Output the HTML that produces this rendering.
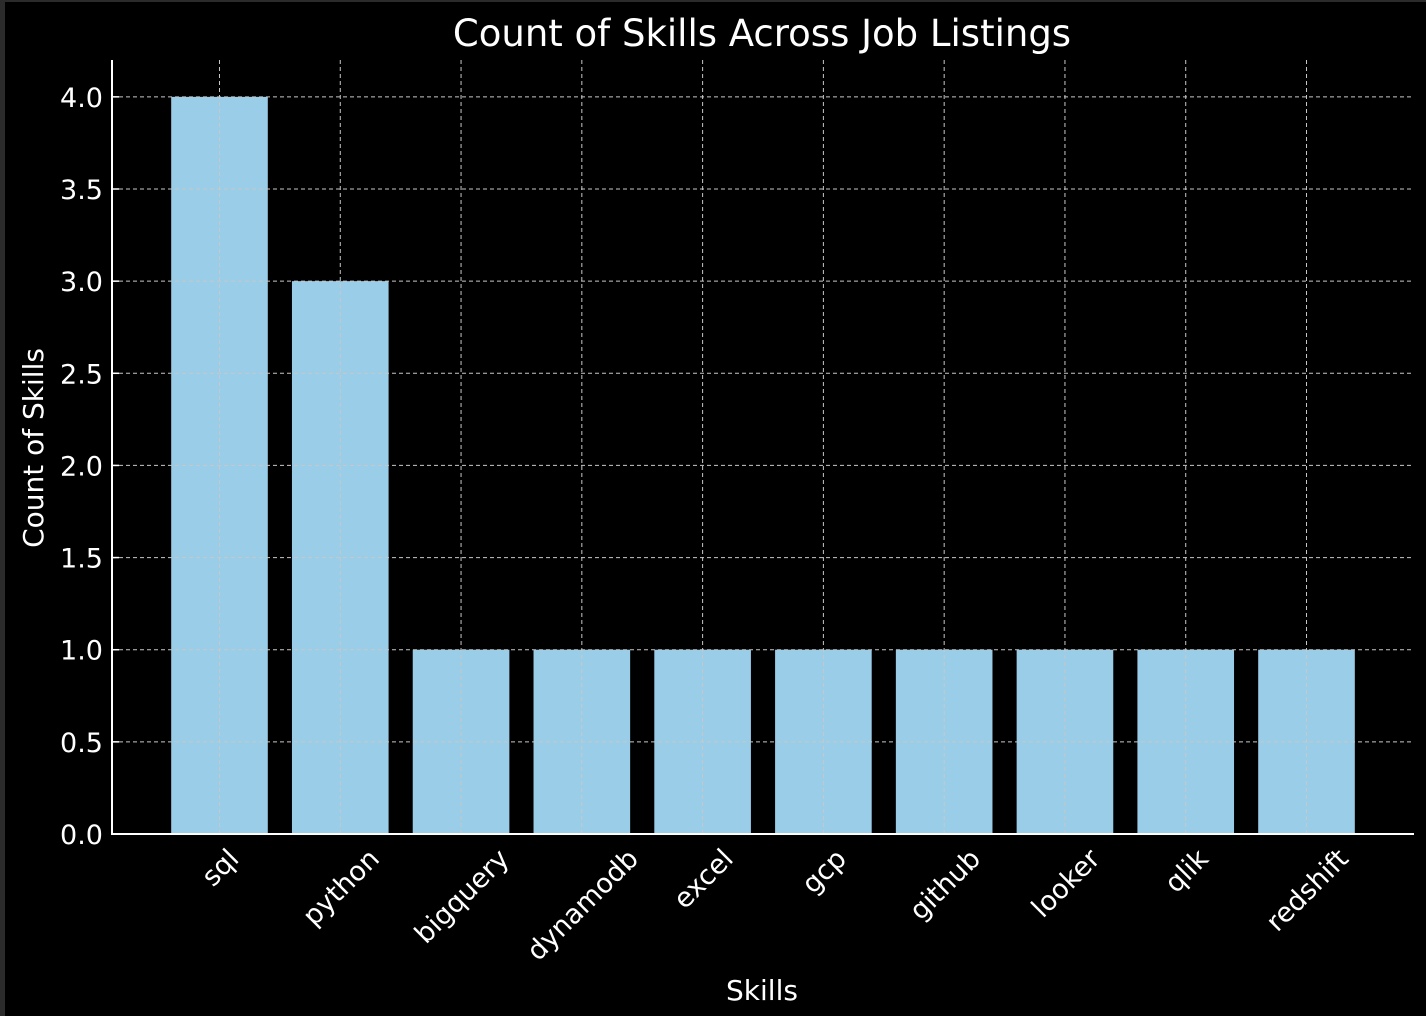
<!DOCTYPE html>
<html><head><meta charset="utf-8">
<style>
html,body{margin:0;padding:0;background:#000;}
body{width:1426px;height:1016px;overflow:hidden;position:relative;}
#frame-top{position:absolute;left:0;top:0;width:1426px;height:2px;background:#2b2b2b;}
#frame-left{position:absolute;left:0;top:0;width:5px;height:1016px;background:#2b2b2b;}
svg{position:absolute;left:0;top:0;}
text{font-family:"DejaVu Sans","Liberation Sans",sans-serif;fill:#fff;}
</style></head>
<body>
<div id="frame-top"></div>
<div id="frame-left"></div>
<svg id="chart" width="1426" height="1016"></svg>
<script>
const categories = ["sql","python","bigquery","dynamodb","excel","gcp","github","looker","qlik","redshift"];
const counts = [4,3,1,1,1,1,1,1,1,1];
const yTicks = [0,0.5,1,1.5,2,2.5,3,3.5,4];
const yTickLabels = ["0.0","0.5","1.0","1.5","2.0","2.5","3.0","3.5","4.0"];

const NS="http://www.w3.org/2000/svg";
const svg=document.getElementById('chart');
const L=112,R=1414,T=60,B=834;
const yMin=0,yMax=4.2;
const xMin=-0.89,xMax=categories.length-1+0.89;
function xs(v){return L+(v-xMin)/(xMax-xMin)*(R-L);}
function ys(v){return B-(v-yMin)/(yMax-yMin)*(B-T);}
function mk(tag,attrs){const e=document.createElementNS(NS,tag);for(const k in attrs)e.setAttribute(k,attrs[k]);svg.appendChild(e);return e;}

const bw=(xs(0.8)-xs(0));
counts.forEach((c,i)=>{
  const b=mk('rect',{x:xs(i)-bw/2,y:ys(c),width:bw,height:ys(0)-ys(c),fill:'#99cde8'});
  
  
});
yTicks.forEach((t,i)=>{
  const g=mk('line',{x1:L,x2:R,y1:ys(t),y2:ys(t),stroke:'#c8c8c8','stroke-width':1,'stroke-dasharray':'4,3'});
  
  
  const tk=mk('line',{x1:L,x2:L+7,y1:ys(t),y2:ys(t),stroke:'#fff','stroke-width':1.5});
  
  
  const lb=mk('text',{x:L-9,y:ys(t)+10,'text-anchor':'end','font-size':'27'});
  lb.textContent=yTickLabels[i];
  
  
});
categories.forEach((c,i)=>{
  const g=mk('line',{x1:xs(i),x2:xs(i),y1:T,y2:B,stroke:'#c8c8c8','stroke-width':1,'stroke-dasharray':'4,3'});
  
  
  const lb=mk('text',{x:0,y:0,'text-anchor':'middle','font-size':'27'});
  lb.textContent=c;
  
  
  const w=lb.getComputedTextLength();
  const h=27*0.75;
  const half=(w+h)*Math.SQRT1_2/2;
  const cy=B+12+half;
  lb.setAttribute('transform','translate('+xs(i)+','+cy+') rotate(-45) translate(0,'+(h/2)+')');
});
const sl=mk('line',{x1:L,x2:L,y1:T,y2:B+1,stroke:'#fff','stroke-width':2});


const sb=mk('line',{x1:L-1,x2:R,y1:B,y2:B,stroke:'#fff','stroke-width':2});


const tt=mk('text',{x:762,y:46,'text-anchor':'middle','font-size':'37'});
tt.textContent='Count of Skills Across Job Listings';


const xt=mk('text',{x:762,y:1000,'text-anchor':'middle','font-size':'28'});
xt.textContent='Skills';


const yt=mk('text',{x:0,y:0,'text-anchor':'middle','font-size':'28','transform':'translate(43,448) rotate(-90)'});
yt.textContent='Count of Skills';


</script>
</body></html>
